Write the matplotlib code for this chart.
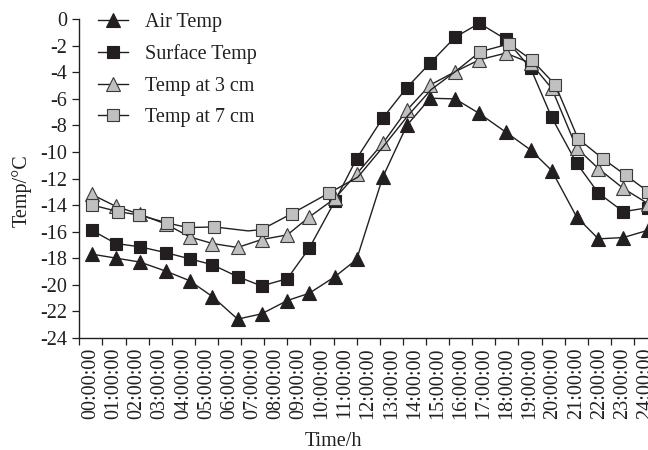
import matplotlib
matplotlib.use("Agg")
import matplotlib.pyplot as plt
from matplotlib.ticker import FixedLocator

plt.rcParams['font.family'] = ['Liberation Serif', 'DejaVu Serif']
plt.rcParams['axes.unicode_minus'] = False

# ---- data ----
hour_labels = ["%02d:00:00" % h for h in range(25)]

# measurement times (hours) for Air / Surface / 3 cm series
times = [0.04, 1.08, 2.13, 3.27, 4.27, 5.26, 6.35, 7.39, 8.50, 9.45, 10.56, 11.50,
         12.63, 13.67, 14.68, 15.76, 16.81, 17.95, 19.03, 19.94, 21.02, 21.96, 23.04, 24.11]

air_temp = [-17.7, -18.0, -18.3, -19.0, -19.7, -20.9, -22.6, -22.2, -21.2, -20.65, -19.4, -18.1,
            -11.9, -8.0, -5.95, -6.0, -7.1, -8.5, -9.85, -11.4, -14.9, -16.55, -16.45, -15.9]

surface_temp = [-15.9, -16.9, -17.15, -17.6, -18.05, -18.5, -19.4, -20.1, -19.55, -17.25, -13.7, -10.5,
                -7.45, -5.15, -3.3, -1.35, -0.3, -1.5, -3.7, -7.4, -10.85, -13.1, -14.5, -14.2]

temp_3cm = [-13.2, -14.1, -14.7, -15.45, -16.4, -16.9, -17.2, -16.6, -16.25, -14.9, -13.5, -11.65,
            -9.35, -6.85, -4.95, -3.95, -3.05, -2.55, -3.3, -5.2, -9.7, -11.25, -12.75, -13.9]

# 7 cm series has its own time stamps
times_7cm = [0.06, 1.19, 2.08, 3.31, 4.19, 5.34, 6.81, 7.39, 8.69, 10.30, 11.55, 12.65,
             13.70, 14.72, 15.80, 16.84, 18.10, 19.10, 20.10, 21.08, 22.15, 23.14, 24.12]
temp_7cm = [-14.0, -14.5, -14.75, -15.35, -15.7, -15.65, -15.95, -15.85, -14.65, -13.1, -11.9, -9.6,
            -7.3, -5.3, -3.9, -2.45, -1.85, -3.1, -4.95, -9.0, -10.5, -11.75, -13.0]
marked_7cm = [0, 1, 2, 3, 4, 5, 7, 8, 9, 15, 16, 17, 18, 19, 20, 21, 22]

y_ticks = list(range(0, -25, -2))

# ---- styling ----
DARK = '#231f20'
GRAY = '#c0c0c0'
GEDGE = '#3a3a3a'
FS = 14.5

fig = plt.figure(figsize=(6.48, 4.5), dpi=100)
ax = fig.add_axes([79.3 / 648, 1 - 337.7 / 450, (657.1 - 79.3) / 648, (337.7 - 19.3) / 450])

common = dict(lw=1.0, color=DARK, clip_on=False)
ax.plot(times, air_temp, marker='^', ms=9.8, mfc=DARK, mec=DARK, mew=0.8,
        label='Air Temp', zorder=3, **common)
ax.plot(times, surface_temp, marker='s', ms=8.4, mfc=DARK, mec=DARK, mew=0.8,
        label='Surface Temp', zorder=4, **common)
ax.plot(times, temp_3cm, marker='^', ms=9.8, mfc=GRAY, mec=GEDGE, mew=0.8,
        label='Temp at 3 cm', zorder=5, **common)
ax.plot(times_7cm, temp_7cm, marker='s', ms=8.4, mfc=GRAY, mec=GEDGE, mew=0.8,
        markevery=marked_7cm, label='Temp at 7 cm', zorder=6, **common)

ax.set_xlim(-0.5, 24.5)
ax.set_ylim(-24, 0)

for s in ['top', 'right']:
    ax.spines[s].set_visible(False)
for s in ['left', 'bottom']:
    ax.spines[s].set_linewidth(1.0)
    ax.spines[s].set_color(DARK)

ax.set_yticks(y_ticks)
ax.set_yticklabels([str(v) for v in y_ticks])
ax.tick_params(axis='y', direction='out', length=5, width=0.9, pad=3.6,
               labelsize=FS, colors=DARK)

ax.xaxis.set_major_locator(FixedLocator(list(range(25))))
ax.set_xticklabels(hour_labels, rotation=90, fontsize=FS, va='top', ha='center')
ax.xaxis.set_minor_locator(FixedLocator([k - 0.5 for k in range(26)]))
ax.tick_params(axis='x', which='major', length=0, pad=7.2, colors=DARK)
ax.tick_params(axis='x', which='minor', direction='out', length=5, width=0.9, color=DARK)

fig.text(22 / 648, 1 - 191 / 450, 'Temp/°C', rotation=90, ha='center', va='center',
         fontsize=FS, color=DARK)
fig.text(333.5 / 648, 1 - 441 / 450, 'Time/h', ha='center', va='center',
         fontsize=FS, color=DARK)

leg = ax.legend(loc='upper left', bbox_to_anchor=(97.7 / 648, 1 - 12.5 / 450),
                bbox_transform=fig.transFigure, frameon=False, fontsize=FS,
                borderpad=0, borderaxespad=0, handlelength=1.52, handletextpad=0.83,
                labelspacing=0.62, numpoints=1)
for t in leg.get_texts():
    t.set_color(DARK)

fig.savefig('out.png', dpi=100)
